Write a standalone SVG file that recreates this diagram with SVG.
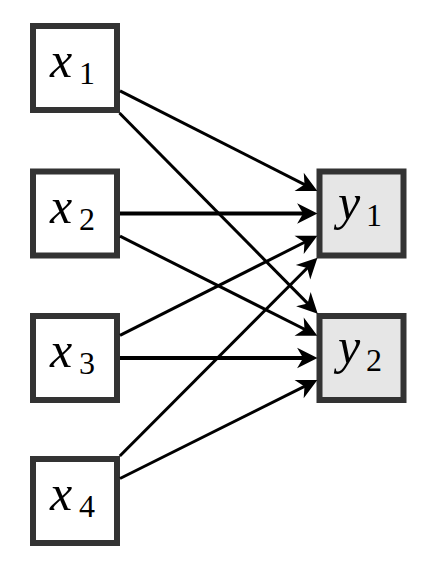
<svg xmlns="http://www.w3.org/2000/svg" width="432" height="578" viewBox="0 0 432 578">
<style>
.box{fill:#ffffff;stroke:#333333;stroke-width:6}
.out{fill:#e6e6e6;stroke:#333333;stroke-width:6}
.e{fill:none;stroke:#000;stroke-width:3}
.h{stroke-width:4}
</style>
<defs>
<marker id="ah" markerUnits="userSpaceOnUse" markerWidth="30" markerHeight="30" viewBox="-20 -10 25 20" refX="-5" refY="0" orient="auto" overflow="visible">
<path d="M0,0 L-17,-8.5 L-12,0 L-17,8.5 Z" fill="#000"/>
</marker>
</defs>
<g font-family="Liberation Serif, DejaVu Serif, serif" fill="#000">
<g id="x1"><rect class="box" x="33" y="26" width="84" height="84"/><text x="50" y="77" font-style="italic" font-size="50">x</text><text x="79" y="84" font-size="32">1</text></g>
<g id="x2"><rect class="box" x="33" y="171.5" width="84" height="84"/><text x="50" y="222.5" font-style="italic" font-size="50">x</text><text x="79" y="229.5" font-size="32">2</text></g>
<g id="x3"><rect class="box" x="33" y="316" width="84" height="84"/><text x="50" y="367" font-style="italic" font-size="50">x</text><text x="79" y="374" font-size="32">3</text></g>
<g id="x4"><rect class="box" x="33" y="459" width="84" height="84"/><text x="50" y="510" font-style="italic" font-size="50">x</text><text x="79" y="517" font-size="32">4</text></g>
<g id="y1"><rect class="out" x="319.5" y="171.5" width="84" height="84"/><text x="338" y="218.5" font-style="italic" font-size="50">y</text><text x="366" y="226" font-size="32">1</text></g>
<g id="y2"><rect class="out" x="319.5" y="316" width="84" height="84"/><text x="338" y="363" font-style="italic" font-size="50">y</text><text x="366" y="370.5" font-size="32">2</text></g>
</g>
<g id="edges">
<path class="e" marker-end="url(#ah)" d="M120,90.9 L312.0,188.3"/>
<path class="e" marker-end="url(#ah)" d="M119.5,113 L313.5,309.4"/>
<path class="e h" marker-end="url(#ah)" d="M120,213.5 L311.5,213.5"/>
<path class="e" marker-end="url(#ah)" d="M120,236.2 L312.0,333.0"/>
<path class="e" marker-end="url(#ah)" d="M120,335.3 L312.0,238.5"/>
<path class="e h" marker-end="url(#ah)" d="M120,358 L311.5,358"/>
<path class="e" marker-end="url(#ah)" d="M119.8,456 L313.2,262.0"/>
<path class="e" marker-end="url(#ah)" d="M120,478.5 L312.0,382.7"/>
</g>
</svg>
